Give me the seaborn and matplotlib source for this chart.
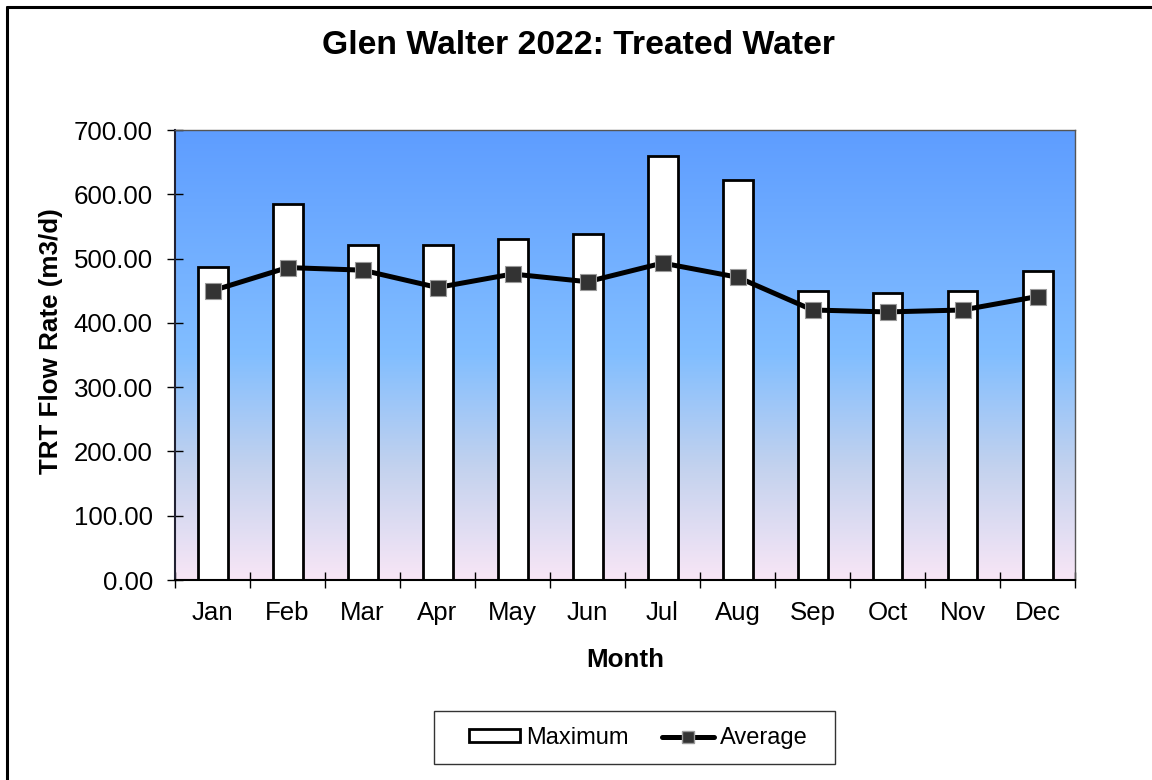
import numpy as np
import matplotlib
matplotlib.use('Agg')
import matplotlib.pyplot as plt
import seaborn as sns
from matplotlib.colors import LinearSegmentedColormap
from matplotlib.lines import Line2D
from matplotlib.patches import Patch, Rectangle
from matplotlib.ticker import FixedLocator, FormatStrFormatter

months = ['Jan', 'Feb', 'Mar', 'Apr', 'May', 'Jun', 'Jul', 'Aug', 'Sep', 'Oct', 'Nov', 'Dec']
maximum = [487, 585, 521, 521, 530, 539, 659, 622, 450, 447, 449, 481]
average = [450, 486, 482, 455, 476, 464, 493, 471, 420, 417, 420, 441]

sns.set_style('white')
plt.rcParams['font.family'] = ['Liberation Sans', 'DejaVu Sans']
plt.rcParams['text.color'] = 'black'
plt.rcParams['axes.labelcolor'] = 'black'
plt.rcParams['xtick.color'] = 'black'
plt.rcParams['ytick.color'] = 'black'

W, H = 1152, 780
fig = plt.figure(figsize=(W / 100, H / 100), dpi=100)
ax = fig.add_axes([175 / W, 1 - 580 / H, 900 / W, 450 / H])

# gradient background of the plot area
grad = LinearSegmentedColormap.from_list('bg', [
    (0.0, (248/255, 230/255, 246/255)),
    (0.25, (195/255, 210/255, 238/255)),
    (0.5, (130/255, 190/255, 255/255)),
    (1.0, (94/255, 157/255, 255/255)),
])
ax.imshow(np.linspace(0, 1, 256).reshape(-1, 1), cmap=grad, origin='lower',
          aspect='auto', extent=[0, 1, 0, 1], transform=ax.transAxes, zorder=0)

sns.barplot(x=months, y=maximum, color='white', edgecolor='black', linewidth=2,
            width=0.4, saturation=1, ax=ax, zorder=2)
sns.lineplot(x=np.arange(len(months)), y=average, color='black', linewidth=3.6,
             marker='s', markersize=11, markerfacecolor='#333333',
             markeredgecolor='#999999', markeredgewidth=0.8, ax=ax, zorder=3)

ax.set_xlim(-0.5, 11.5)
ax.set_ylim(0, 700)
ax.set_yticks(np.arange(0, 701, 100))
ax.yaxis.set_major_formatter(FormatStrFormatter('%.2f'))
ax.tick_params(axis='y', direction='inout', length=11, width=1, labelsize=18.6,
               pad=10.5, left=True)

# ticks between months, labels at month centres
ax.xaxis.set_major_locator(FixedLocator(np.arange(-0.5, 12, 1)))
ax.xaxis.set_minor_locator(FixedLocator(np.arange(12)))
ax.set_xticklabels([''] * 13)
ax.set_xticklabels(months, minor=True)
ax.tick_params(axis='x', which='major', direction='inout', length=11, width=1, bottom=True)
ax.tick_params(axis='x', which='minor', length=0, labelsize=18.6, pad=15)

ax.set_xlabel('Month', fontsize=18.7, fontweight='bold', labelpad=17)
ax.set_ylabel('TRT Flow Rate (m3/d)', fontsize=18.7, fontweight='bold')
ax.yaxis.set_label_coords((63 - 175) / 900, (580 - 341) / 450)

for side in ['top', 'right']:
    ax.spines[side].set_visible(True)
    ax.spines[side].set_color('#555555')
    ax.spines[side].set_linewidth(1)
ax.spines['left'].set_color('#222233')
ax.spines['left'].set_linewidth(1.5)
ax.spines['bottom'].set_color('black')
ax.spines['bottom'].set_linewidth(1.5)

fig.text(578.5 / W, 1 - 46 / H, 'Glen Walter 2022: Treated Water', ha='center',
         va='center', fontsize=24.3, fontweight='bold')

# legend with a separately drawn box
fig.add_artist(Rectangle((434 / W, 1 - 764 / H), 401 / W, 53 / H, facecolor='white',
                         edgecolor='#333333', linewidth=1, transform=fig.transFigure,
                         zorder=1))
handles = [Patch(facecolor='white', edgecolor='black', linewidth=2),
           Line2D([0], [0], color='black', linewidth=3.6, marker='s', markersize=8,
                  markerfacecolor='#333333', markeredgecolor='#999999')]
leg = fig.legend(handles, ['Maximum', 'Average'], ncol=2, loc='center',
                 bbox_to_anchor=(638 / W, 1 - 738 / H), fontsize=17,
                 frameon=False, handlelength=2.2, handletextpad=0.25,
                 columnspacing=1.4, handleheight=0.45)
leg.set_zorder(2)

# outer chart border (top and left edges visible)
fig.add_artist(Line2D([6.5 / W, 1.0], [1 - 7 / H] * 2, color='black',
                      linewidth=2.2, transform=fig.transFigure))
fig.add_artist(Line2D([6.5 / W] * 2, [0.0, 1 - 7 / H], color='black',
                      linewidth=2.2, transform=fig.transFigure))

fig.savefig('out.png', dpi=100)
